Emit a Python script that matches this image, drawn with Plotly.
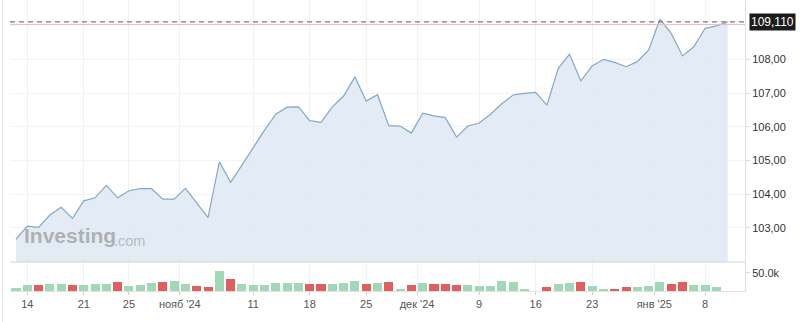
import plotly.graph_objects as go

# ---------------- data ----------------
dates = [
    "2024-10-11",
    "2024-10-14", "2024-10-15", "2024-10-16", "2024-10-17", "2024-10-18",
    "2024-10-21", "2024-10-22", "2024-10-23", "2024-10-24", "2024-10-25",
    "2024-10-28", "2024-10-29", "2024-10-30", "2024-10-31", "2024-11-01",
    "2024-11-04", "2024-11-05", "2024-11-06", "2024-11-07", "2024-11-08",
    "2024-11-11", "2024-11-12", "2024-11-13", "2024-11-14", "2024-11-15",
    "2024-11-18", "2024-11-19", "2024-11-20", "2024-11-21", "2024-11-22",
    "2024-11-25", "2024-11-26", "2024-11-27", "2024-11-28", "2024-11-29",
    "2024-12-02", "2024-12-03", "2024-12-04", "2024-12-05", "2024-12-06",
    "2024-12-09", "2024-12-10", "2024-12-11", "2024-12-12", "2024-12-13",
    "2024-12-16", "2024-12-17", "2024-12-18", "2024-12-19", "2024-12-20",
    "2024-12-23", "2024-12-24", "2024-12-26", "2024-12-27",
    "2024-12-30", "2024-12-31", "2025-01-02", "2025-01-03",
    "2025-01-06", "2025-01-07", "2025-01-08", "2025-01-09", "2025-01-10",
]

close = [
    102.66,
    103.05, 103.01, 103.38, 103.61, 103.28,
    103.80, 103.89, 104.26, 103.89, 104.10,
    104.16, 104.16, 103.85, 103.85, 104.17,
    103.74, 103.30, 104.96, 104.35, 104.86,
    105.40, 105.90, 106.37, 106.58, 106.59,
    106.18, 106.13, 106.59, 106.91, 107.48,
    106.76, 106.95, 106.03, 106.02, 105.81,
    106.40, 106.32, 106.27, 105.69, 106.02,
    106.11, 106.37, 106.68, 106.94, 106.99,
    107.02, 106.64, 107.73, 108.15, 107.36,
    107.80, 108.00, 107.91, 107.78,
    107.93, 108.28, 109.19, 108.77,
    108.10, 108.37, 108.92, 108.99, 109.11,
]

volume_k = [
    8.2,
    16.4, 16.4, 18.3, 18.3, 16.4,
    16.4, 18.3, 20.0, 23.8, 14.5,
    16.4, 21.0, 23.8, 28.1, 19.1,
    13.7, 10.9, 53.8, 32.0, 18.3,
    16.4, 16.4, 22.7, 21.0, 21.0,
    18.3, 18.3, 18.3, 22.7, 27.3,
    20.0, 21.0, 23.8, 4.6, 16.4,
    21.0, 19.1, 19.1, 16.4, 16.4,
    12.8, 12.8, 26.5, 25.4, 5.5,
    0.0, 10.9, 20.0, 21.9, 24.6,
    14.5, 6.3, 6.3, 10.9,
    10.9, 13.7, 24.6, 18.3,
    24.6, 17.2, 17.2, 10.9, 0.0,
]

direction = [
    "u",
    "u", "d", "u", "u", "d",
    "u", "u", "u", "d", "u",
    "u", "u", "d", "u", "u",
    "d", "d", "u", "d", "u",
    "u", "u", "u", "u", "u",
    "d", "d", "u", "u", "u",
    "d", "u", "d", "u", "d",
    "u", "d", "d", "d", "u",
    "u", "u", "u", "u", "u",
    "u", "d", "u", "u", "d",
    "u", "u", "d", "d",
    "u", "u", "u", "d",
    "d", "u", "u", "u", "u",
]

tick_dates = ["2024-10-14", "2024-10-21", "2024-10-25", "2024-11-01", "2024-11-11",
              "2024-11-18", "2024-11-25", "2024-12-02", "2024-12-09", "2024-12-16",
              "2024-12-23", "2025-01-02", "2025-01-08"]
tick_labels = ["14", "21", "25", "нояб '24", "11", "18", "25", "дек '24", "9", "16",
               "23", "янв '25", "8"]

price_ticks = [103, 104, 105, 106, 107, 108]
price_tick_labels = ["103,00", "104,00", "105,00", "106,00", "107,00", "108,00"]
last_price = 109.11
last_price_label = "109,110"
ref_level = 109.03
holidays = ["2024-12-25", "2025-01-01"]

# ---------------- figure ----------------
FONT = "Liberation Sans, Arial, sans-serif"
x_mid = [d + " 12:00" for d in dates]
tickvals = [d + (" 00:00" if "'" in lab else " 12:00") for d, lab in zip(tick_dates, tick_labels)]

GREEN = "#a2d8b7"
RED = "#e05e5e"
bar_colors = [GREEN if s == "u" else RED for s in direction]

fig = go.Figure()
fig.add_trace(go.Scatter(
    x=x_mid, y=close, mode="lines",
    line=dict(color="#84a8c8", width=1.2),
    fill="tozeroy", fillcolor="rgba(224,234,244,0.9)",
    xaxis="x", yaxis="y", showlegend=False, hoverinfo="skip",
))
fig.add_trace(go.Bar(
    x=x_mid, y=volume_k, marker=dict(color=bar_colors, line=dict(width=0)),
    width=0.8 * 86400000, xaxis="x", yaxis="y2", showlegend=False, hoverinfo="skip",
))

VSPLIT = 29 / 291

fig.update_layout(
    width=800, height=322,
    margin=dict(l=10, r=55, t=0, b=31),
    paper_bgcolor="white", plot_bgcolor="white",
    font=dict(family=FONT, size=11, color="#333"),
    bargap=0,
    xaxis=dict(
        type="date", anchor="y2",
        range=["2024-10-10 23:17", "2025-01-14 00:43"],
        rangebreaks=[dict(bounds=["sat", "mon"]), dict(values=holidays)],
        tickmode="array", tickvals=tickvals, ticktext=tick_labels,
        showgrid=True, gridcolor="#f1f1f1", gridwidth=1,
        ticks="outside", ticklen=3, tickcolor="#cfcfcf",
        showline=True, linecolor="#e2e2e2", linewidth=1,
        tickfont=dict(size=11, color="#555"),
        zeroline=False, fixedrange=True,
    ),
    yaxis=dict(
        domain=[VSPLIT, 1], anchor="x", side="right",
        range=[101.985, 109.76],
        tickmode="array", tickvals=price_ticks, ticktext=price_tick_labels,
        showgrid=True, gridcolor="#f3f3f3", gridwidth=1,
        ticks="outside", ticklen=4, tickcolor="#dddddd",
        tickfont=dict(size=11, color="#333"),
        showline=True, linecolor="#e0e0e0", zeroline=False,
    ),
    yaxis2=dict(
        domain=[0, VSPLIT], anchor="x", side="right",
        range=[0, 79.2],
        tickmode="array", tickvals=[50], ticktext=["50.0k"],
        showgrid=False,
        ticks="outside", ticklen=4, tickcolor="#dddddd",
        tickfont=dict(size=11, color="#333"),
        showline=True, linecolor="#e0e0e0", zeroline=False,
    ),
)

# separator between price and volume panes
fig.add_shape(type="line", xref="paper", yref="paper", x0=0, x1=1, y0=VSPLIT, y1=VSPLIT,
              line=dict(color="#cfd3d6", width=1))
# left page border
fig.add_shape(type="line", xref="paper", yref="paper", x0=-7.5 / 735, x1=-7.5 / 735,
              y0=-31 / 291, y1=1, line=dict(color="#e6e6e6", width=1))
# reference (pink) line and last-price dashed line
fig.add_shape(type="line", xref="paper", yref="y", x0=0, x1=1, y0=ref_level, y1=ref_level,
              line=dict(color="#eeb8bd", width=1))
fig.add_shape(type="line", xref="paper", yref="y", x0=0, x1=1, y0=last_price, y1=last_price,
              line=dict(color="#7a7a7a", width=1.3, dash="5px,4px"))

# last price label
fig.add_annotation(x=1, xref="paper", y=last_price, yref="y", xanchor="left", yanchor="middle",
                   xshift=4, text=last_price_label, showarrow=False,
                   bgcolor="#1c1c1c", borderpad=1,
                   font=dict(family=FONT, size=12, color="white"))

# watermark
fig.add_annotation(x=12 / 735, xref="paper", y=102.76, yref="y", xanchor="left", yanchor="middle",
                   text="<b>Investing</b>", showarrow=False,
                   font=dict(family=FONT, size=21, color="rgba(150,150,150,0.7)"))
fig.add_annotation(x=102 / 735, xref="paper", y=102.6, yref="y", xanchor="left", yanchor="middle",
                   text=".com", showarrow=False,
                   font=dict(family=FONT, size=14.5, color="rgba(160,160,160,0.65)"))

fig.write_html("out.html")
